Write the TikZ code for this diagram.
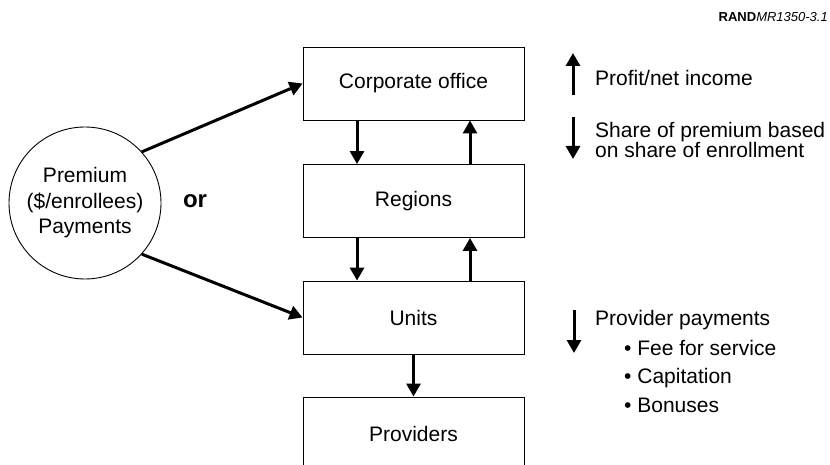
\documentclass[tikz,border=0pt]{standalone}
\usepackage{fontspec}
\setmainfont{Liberation Sans}
\usepackage{tikz}
\usetikzlibrary{arrows.meta}
\tikzstyle{flow}=[-{Triangle[length=13pt,width=14pt]}, line width=3pt]
\tikzstyle{level}=[draw, line width=0.9pt, minimum width=221pt,
                   minimum height=73pt, inner sep=0pt,
                   font=\fontsize{21}{21}\selectfont]
\tikzstyle{payer}=[circle, draw, line width=0.9pt, minimum size=152pt,
                   inner sep=0pt, align=center,
                   font=\fontsize{21}{25.5}\selectfont]
\tikzstyle{note}=[anchor=base west, align=left, inner sep=0pt,
                  font=\fontsize{21}{19.5}\selectfont]

\begin{document}
\begin{tikzpicture}[x=1pt, y=-1pt]
   \clip (0,0) rectangle (830,465);
   % tag
   \node (tag) at (828,17) [anchor=east, inner sep=0pt,
        font=\fontsize{13}{13}\selectfont] {\textbf{RAND}\textit{MR1350-3.1}};
   % levels
   \node (corp)  at (413.5,83.5)  [level] {Corporate office};
   \node (reg)   at (413.5,201)   [level] {Regions};
   \node (units) at (413.5,317.5) [level] {Units};
   \node (prov)  at (413.5,433.5) [level] {Providers};
   \node (prem)  at (85,203) [payer] {Premium\\(\$/enrollees)\\Payments};
   \node (or)    at (195,201) [font=\fontsize{24}{24}\selectfont\bfseries] {or};

   \draw [flow] (prem.42)  to (corp.west);
   \draw [flow] (prem.-42) to (units.west);
   \foreach \u/\v in {corp/reg,reg/units}
     {
     \draw [flow] ([xshift=-56.5pt]\u.south) to ([xshift=-56.5pt]\v.north);
     \draw [flow] ([xshift=56.5pt]\v.north) to ([xshift=56.5pt]\u.south);
     }
   \draw [flow] (units) to (prov);

   % legend
   \node (profit) at (595,86)  [note] {Profit/net income};
   \node (share)  at (595,158) [note] {Share of premium based\\on share of enrollment};
   \node (pay)    at (595,325) [note] {Provider payments};
   \node (fee)    at (624,355) [note] {\textbullet\ Fee for service};
   \node (cap)    at (624,383) [note] {\textbullet\ Capitation};
   \node (bonus)  at (624,412) [note] {\textbullet\ Bonuses};
   \coordinate (a1) at (573,95);  \coordinate (b1) at (573,53);
   \coordinate (a2) at (573,117); \coordinate (b2) at (573,159);
   \coordinate (a3) at (574,310); \coordinate (b3) at (574,353);
   \foreach \u/\v in {a1/b1,a2/b2,a3/b3}
     \draw [flow] (\u) to (\v);
\end{tikzpicture}
\end{document}
